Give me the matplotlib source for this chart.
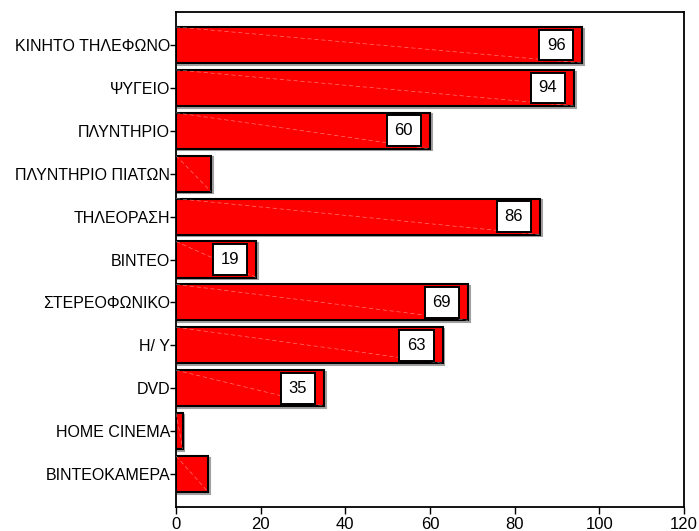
import matplotlib
matplotlib.use("Agg")
import matplotlib.pyplot as plt
import matplotlib.patheffects as pe

categories = ["ΚΙΝΗΤΟ ΤΗΛΕΦΩΝΟ", "ΨΥΓΕΙΟ", "ΠΛΥΝΤΗΡΙΟ", "ΠΛΥΝΤΗΡΙΟ ΠΙΑΤΩΝ",
              "ΤΗΛΕΟΡΑΣΗ", "ΒΙΝΤΕΟ", "ΣΤΕΡΕΟΦΩΝΙΚΟ", "Η/ Υ", "DVD",
              "HOME CINEMA", "ΒΙΝΤΕΟΚΑΜΕΡΑ"]
values = [96, 94, 60, 8.3, 86, 19, 69, 63, 35, 1.6, 7.6]
labeled = [True, True, True, False, True, True, True, True, True, False, False]
xticks = [0, 20, 40, 60, 80, 100, 120]

plt.rcParams["font.family"] = ["Liberation Sans", "DejaVu Sans"]

fig = plt.figure(figsize=(6.99, 5.31), dpi=100)
ax = fig.add_axes([176 / 699, 24 / 531, 508 / 699, 495 / 531])

ypos = list(range(len(categories)))
ax.barh(ypos, values, height=0.84, color="#ff0000", edgecolor="black",
        linewidth=1.5, zorder=3,
        path_effects=[pe.SimpleLineShadow(offset=(1.2, -1.2), shadow_color="#888888", alpha=0.8),
                      pe.Normal()])

# faint diagonal streak across each bar
for y, v in zip(ypos, values):
    ax.plot([0, v], [y - 0.42, y + 0.42], color="white", lw=0.5, ls=(0, (6, 4)),
            alpha=0.45, zorder=4)

# value boxes near the end of each labelled bar
for y, v, show in zip(ypos, values, labeled):
    if show:
        ax.text(v - 6.2, y, f"{v:g}", ha="center", va="center", fontsize=12, zorder=5,
                bbox=dict(boxstyle="square,pad=0.47", facecolor="white",
                          edgecolor="black", linewidth=1.4))

ax.set_xlim(0, 120)
ax.set_ylim(10.77, -0.77)
ax.set_xticks(xticks)
ax.set_xticklabels([str(t) for t in xticks], fontsize=12)
ax.set_yticks(ypos)
ax.set_yticklabels(categories, fontsize=11.5)
ax.tick_params(axis="y", direction="out", length=4, width=1, pad=0.3)
ax.tick_params(axis="x", direction="out", length=5, width=1, pad=2.5)
for s in ax.spines.values():
    s.set_linewidth(1.3)

fig.savefig("out.png", dpi=100)
